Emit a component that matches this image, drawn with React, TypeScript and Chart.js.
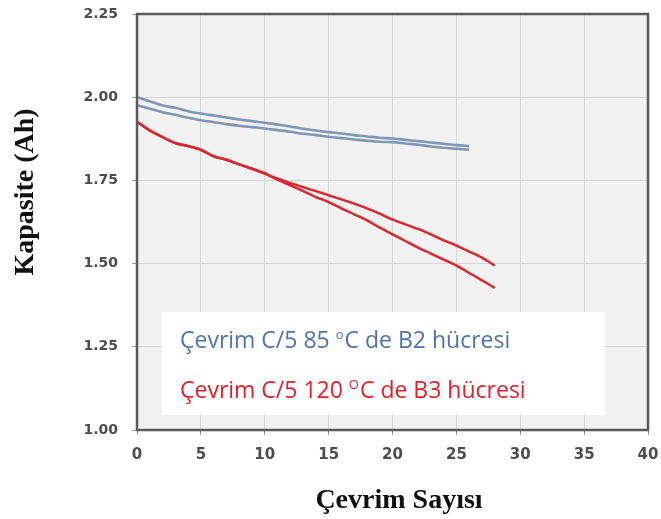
import React, { useEffect, useRef } from "react";
import { Chart, registerables } from "chart.js";

Chart.register(...registerables);

const cyclesBlue = [0, 1, 2, 3, 4, 5, 6, 7, 8, 9, 10, 11, 12, 13, 14, 15, 16, 17, 18, 19, 20, 21, 22, 23, 24, 25, 26];
const blueUpper = [2.0, 1.988, 1.975, 1.968, 1.958, 1.951, 1.945, 1.939, 1.933, 1.928, 1.923, 1.918, 1.912, 1.905, 1.9, 1.895, 1.891, 1.886, 1.882, 1.878, 1.876, 1.872, 1.868, 1.864, 1.86, 1.856, 1.853];
const blueLower = [1.976, 1.965, 1.955, 1.947, 1.938, 1.931, 1.925, 1.919, 1.914, 1.91, 1.906, 1.901, 1.896, 1.89, 1.886, 1.881, 1.877, 1.873, 1.869, 1.866, 1.865, 1.861, 1.857, 1.852, 1.848, 1.845, 1.842];

const cyclesRed = [0, 1, 2, 3, 4, 5, 6, 7, 8, 9, 10, 11, 12, 13, 14, 15, 16, 17, 18, 19, 20, 21, 22, 23, 24, 25, 26, 27, 28];
const redUpper = [1.926, 1.9, 1.88, 1.862, 1.853, 1.842, 1.822, 1.812, 1.798, 1.785, 1.77, 1.755, 1.742, 1.73, 1.718, 1.705, 1.693, 1.68, 1.666, 1.65, 1.632, 1.618, 1.604, 1.588, 1.57, 1.554, 1.536, 1.518, 1.494];
const redLower = [1.926, 1.9, 1.88, 1.862, 1.853, 1.842, 1.822, 1.812, 1.798, 1.785, 1.772, 1.752, 1.735, 1.718, 1.7, 1.685, 1.666, 1.648, 1.63, 1.608, 1.588, 1.568, 1.548, 1.53, 1.512, 1.494, 1.472, 1.45, 1.427];

const xTitle = "Çevrim Sayısı";
const yTitle = "Kapasite (Ah)";
const legendBlue = ["Çevrim C/5 85 ", "o", "C de B2 hücresi"];
const legendRed = ["Çevrim C/5 120 ", "O", "C de B3 hücresi"];

const BLUE_LINE = "#7f97b6";
const RED_LINE = "#e3222c";
const BLUE_TEXT = "#4f74ad";
const RED_TEXT = "#e2202b";

const toPts = (xs: number[], ys: number[]) => xs.map((x, i) => ({ x, y: ys[i] }));

const decorPlugin = {
  id: "decor",
  beforeDraw(chart: any) {
    const { ctx, chartArea: a } = chart;
    ctx.save();
    ctx.fillStyle = "#ffffff";
    ctx.fillRect(0, 0, chart.width, chart.height);
    ctx.fillStyle = "#f2f2f2";
    ctx.fillRect(a.left, a.top, a.right - a.left, a.bottom - a.top);
    ctx.restore();
  },
  afterDatasetsDraw(chart: any) {
    const { ctx, chartArea: a } = chart;
    ctx.save();
    ctx.fillStyle = "#ffffff";
    ctx.fillRect(162, 312, 443, 103);
    const drawLine = (parts: string[], color: string, x: number, y: number) => {
      ctx.fillStyle = color;
      ctx.textBaseline = "alphabetic";
      ctx.textAlign = "left";
      ctx.font = "23px 'Open Sans'";
      ctx.fillText(parts[0], x, y);
      let cx = x + ctx.measureText(parts[0]).width;
      ctx.font = "13px 'Open Sans'";
      ctx.fillText(parts[1], cx, y - 9);
      cx += ctx.measureText(parts[1]).width + 1;
      ctx.font = "23px 'Open Sans'";
      ctx.fillText(parts[2], cx, y);
    };
    drawLine(legendBlue, BLUE_TEXT, 180, 348);
    drawLine(legendRed, RED_TEXT, 180, 398);
    ctx.strokeStyle = "#5a5a5a";
    ctx.lineWidth = 2.5;
    ctx.strokeRect(a.left, a.top, a.right - a.left, a.bottom - a.top);
    ctx.fillStyle = "#111111";
    ctx.font = "bold 28px 'Liberation Serif'";
    ctx.textAlign = "center";
    ctx.textBaseline = "middle";
    ctx.fillText(xTitle, 399, 501);
    ctx.translate(26, 192);
    ctx.rotate(-Math.PI / 2);
    ctx.fillText(yTitle, 0, 0);
    ctx.restore();
  },
};

export default function App() {
  const ref = useRef<HTMLCanvasElement | null>(null);
  useEffect(() => {
    if (!ref.current) return;
    const chart = new Chart(ref.current, {
      type: "line",
      data: {
        datasets: [
          { label: "B2 a", data: toPts(cyclesBlue, blueUpper), borderColor: BLUE_LINE, borderWidth: 2.6, pointRadius: 0, tension: 0.3, fill: false },
          { label: "B2 b", data: toPts(cyclesBlue, blueLower), borderColor: BLUE_LINE, borderWidth: 2.6, pointRadius: 0, tension: 0.3, fill: false },
          { label: "B3 a", data: toPts(cyclesRed, redUpper), borderColor: RED_LINE, borderWidth: 2.4, pointRadius: 0, tension: 0.3, fill: false },
          { label: "B3 b", data: toPts(cyclesRed, redLower), borderColor: RED_LINE, borderWidth: 2.4, pointRadius: 0, tension: 0.3, fill: false },
        ],
      },
      options: {
        animation: false,
        responsive: false,
        maintainAspectRatio: false,
        layout: { padding: { top: 14, right: 13, left: 0, bottom: 0 } },
        plugins: { legend: { display: false }, tooltip: { enabled: false } },
        scales: {
          x: {
            type: "linear",
            min: 0,
            max: 40,
            ticks: { stepSize: 5, color: "#4d4d4d", font: { family: "'DejaVu Sans'", weight: "bold", size: 15 }, padding: 11 },
            grid: { color: "#d6d6d6", tickColor: "#999999", tickLength: 5, lineWidth: 1 },
            border: { display: false },
            afterFit(scale: any) {
              scale.height = 89;
              scale.paddingLeft = 0;
              scale.paddingRight = 0;
            },
          },
          y: {
            type: "linear",
            min: 1,
            max: 2.25,
            ticks: { stepSize: 0.25, color: "#4d4d4d", font: { family: "'DejaVu Sans'", weight: "bold", size: 14 }, padding: 14, callback: (v: any) => Number(v).toFixed(2) },
            grid: { color: "#d6d6d6", tickColor: "#999999", tickLength: 5, lineWidth: 1 },
            border: { display: false },
            afterFit(scale: any) {
              scale.width = 137;
              scale.paddingTop = 0;
              scale.paddingBottom = 0;
            },
          },
        },
      },
      plugins: [decorPlugin],
    });
    return () => chart.destroy();
  }, []);
  return (
    <div style={{ position: "fixed", left: 0, top: 0, width: 661, height: 519, background: "#fff" }}>
      <canvas ref={ref} width={661} height={519} style={{ width: 661, height: 519, display: "block" }} />
    </div>
  );
}
